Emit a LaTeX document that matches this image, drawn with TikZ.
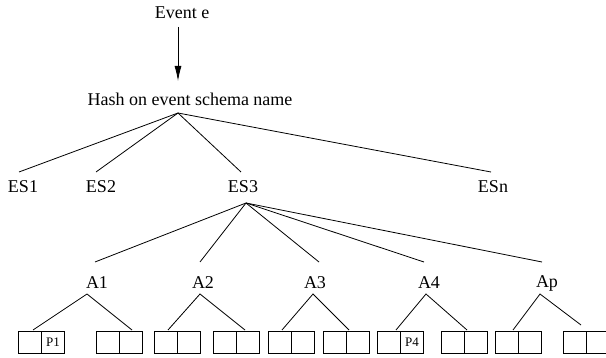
\documentclass[tikz,border=0pt]{standalone}
\usepackage{fontspec}
\setmainfont{Liberation Serif}
\usetikzlibrary{arrows.meta}
\tikzset{
  lbl/.style={inner sep=0pt, font=\fontsize{18}{20}\selectfont},
  cell/.style={draw, line width=0.8pt, minimum width=22.5pt, minimum height=22pt, inner sep=0pt, anchor=north west, font=\fontsize{13}{14}\selectfont},
  edge/.style={line width=0.8pt},
}
\begin{document}
\begin{tikzpicture}[x=1pt,y=-1pt]
\useasboundingbox (0,0) rectangle (606,358);

% top: incoming event and hash on schema name
\node[lbl] (event) at (182,13) {Event e};
\node[lbl] (hash) at (190,99) {Hash on event schema name};
\coordinate (arrTop) at (178,27);
\coordinate (arrTip) at (178,81);
\draw[edge, -{Latex[length=15pt,width=7pt]}] (arrTop) -- (arrTip);

% schema level
\coordinate (hub) at (178,113);
\node[lbl] (es1) at (23,187) {ES1};
\node[lbl] (es2) at (101,187) {ES2};
\node[lbl] (es3) at (243,187) {ES3};
\node[lbl] (esn) at (493,187) {ESn};
\coordinate (in1) at (19,172);
\coordinate (in2) at (96,172);
\coordinate (in3) at (241,172);
\coordinate (inn) at (491,172);
\foreach \t in {in1,in2,in3,inn} \draw[edge] (hub) -- (\t);

% attribute level under ES3
\coordinate (hub3) at (246,203);
\foreach \n/\x/\hx in {a1/95/87, a2/200/200, a3/319/313, a4/424/426, ap/542/540} {
  \coordinate (\n in) at (\x,262);
  \draw[edge] (hub3) -- (\n in);
  \coordinate (\n hub) at (\hx,294);
}
\node[lbl] (a1) at (97,283) {A1};
\node[lbl] (a2) at (203,283) {A2};
\node[lbl] (a3) at (315,283) {A3};
\node[lbl] (a4) at (429,283) {A4};
\node[lbl] (ap) at (547,283) {Ap};

% bucket pairs
\foreach \i/\x in {1/18, 2/96, 3/154, 4/213, 5/268, 6/323, 7/377, 8/441, 9/495, 10/563} {
  \node[cell] (b\i l) at (\x,331) {};
  \node[cell, anchor=north west] (b\i r) at (b\i l.north east) {};
}
\node[font=\fontsize{13}{14}\selectfont, inner sep=0pt] (p1) at (b1r) {P1};
\node[font=\fontsize{13}{14}\selectfont, inner sep=0pt] (p4) at (b7r) {P4};

% attribute fan-out to buckets
\coordinate (t1a) at (33,330);  \coordinate (t1b) at (132,330);
\coordinate (t2a) at (168,330); \coordinate (t2b) at (245,330);
\coordinate (t3a) at (282,330); \coordinate (t3b) at (349,330);
\coordinate (t4a) at (396,330); \coordinate (t4b) at (467,330);
\coordinate (t5a) at (513,330); \coordinate (t5b) at (581,325);
\draw[edge] (t1a) -- (a1hub) -- (t1b);
\draw[edge] (t2a) -- (a2hub) -- (t2b);
\draw[edge] (t3a) -- (a3hub) -- (t3b);
\draw[edge] (t4a) -- (a4hub) -- (t4b);
\draw[edge] (t5a) -- (aphub) -- (t5b);
\end{tikzpicture}
\end{document}
